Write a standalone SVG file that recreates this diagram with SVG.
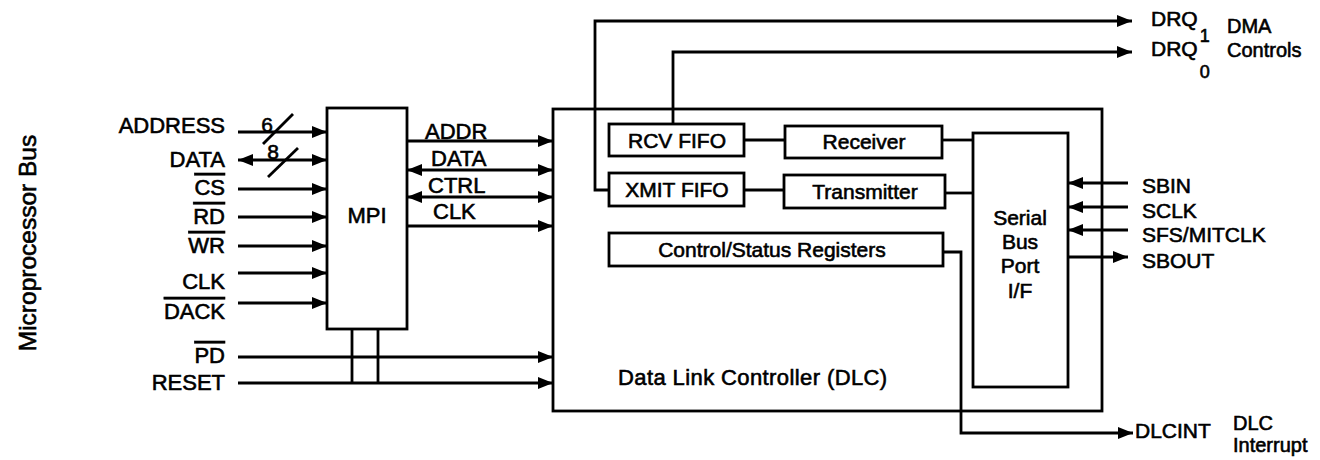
<svg xmlns="http://www.w3.org/2000/svg" width="1320" height="460" viewBox="0 0 1320 460">
  <defs>
    <marker id="arrow" viewBox="0 0 15 12" refX="15" refY="6" markerWidth="15" markerHeight="12" markerUnits="userSpaceOnUse" orient="auto-start-reverse">
      <path d="M0,0 L15,6 L0,12 Z" fill="#000"/>
    </marker>
    <style>
      text { font-family: "Liberation Sans", Arial, Helvetica, sans-serif; fill: #000; stroke: #000; stroke-width: 0.6; }
      .lbl { font-size: 22px; }
      .sm { font-size: 21px; }
      .sub { font-size: 18px; }
      .ov { text-decoration: overline; }
      .box { fill: #fff; stroke: #000; stroke-width: 2.8; }
      .wire { fill: none; stroke: #000; stroke-width: 2.8; }
      .fwd { marker-end: url(#arrow); }
      .bi { marker-start: url(#arrow); marker-end: url(#arrow); }
    </style>
  </defs>

  <rect width="1320" height="460" fill="#fff"/>

  <!-- side caption for the processor bus -->
  <text class="lbl" transform="translate(36,243) rotate(-90)" text-anchor="middle" style="font-size:24.5px">Microprocessor Bus</text>

  <!-- processor bus pin names -->
  <g id="bus-labels" class="lbl" text-anchor="end">
    <text x="225" y="133">ADDRESS</text>
    <text x="225" y="167">DATA</text>
    <text x="225" y="195" class="ov">CS</text>
    <text x="225" y="224" class="ov">RD</text>
    <text x="225" y="253" class="ov">WR</text>
    <text x="225" y="289">CLK</text>
    <text x="225" y="319" class="ov">DACK</text>
    <text x="225" y="363" class="ov">PD</text>
    <text x="225" y="390">RESET</text>
  </g>

  <!-- outer controller block -->
  <g id="dlc">
    <rect class="box" x="553" y="109" width="549" height="302"/>
    <text class="lbl" x="618" y="385" style="letter-spacing:0.4px">Data Link Controller (DLC)</text>
  </g>

  <g id="mpi">
    <rect class="box" x="327" y="108" width="80" height="221"/>
    <text class="lbl" x="367" y="223" text-anchor="middle">MPI</text>
  </g>

  <g id="rcv-fifo">
    <rect class="box" x="609" y="124" width="135" height="32"/>
    <text class="sm" x="677" y="148" text-anchor="middle">RCV FIFO</text>
  </g>

  <g id="receiver">
    <rect class="box" x="785" y="126" width="157" height="32"/>
    <text class="sm" x="864" y="149" text-anchor="middle">Receiver</text>
  </g>

  <g id="xmit-fifo">
    <rect class="box" x="609" y="173" width="135" height="33"/>
    <text class="sm" x="677" y="197" text-anchor="middle">XMIT FIFO</text>
  </g>

  <g id="transmitter">
    <rect class="box" x="784" y="175" width="161" height="33"/>
    <text class="sm" x="865" y="199" text-anchor="middle">Transmitter</text>
  </g>

  <g id="registers">
    <rect class="box" x="609" y="233" width="334" height="33"/>
    <text class="sm" x="772" y="257" text-anchor="middle">Control/Status Registers</text>
  </g>

  <g id="serial-port">
    <rect class="box" x="973" y="133" width="95" height="254"/>
    <g class="sm" text-anchor="middle">
      <text x="1020" y="225">Serial</text>
      <text x="1020" y="249">Bus</text>
      <text x="1020" y="273">Port</text>
      <text x="1020" y="298">I/F</text>
    </g>
  </g>

  <!-- connectors -->
  <g id="connectors">
    <!-- processor bus into MPI -->
    <path class="wire fwd" d="M238,132 H327"/>
    <path class="wire bi" d="M238,160 H327"/>
    <path class="wire fwd" d="M238,189 H327"/>
    <path class="wire fwd" d="M238,217 H327"/>
    <path class="wire fwd" d="M238,246 H327"/>
    <path class="wire fwd" d="M238,273 H327"/>
    <path class="wire fwd" d="M238,303 H327"/>
    <!-- bus width slashes -->
    <path class="wire" d="M263,144 L293,114"/>
    <path class="wire" d="M268,177 L298,148"/>

    <!-- power-down and reset straight to the controller -->
    <path class="wire fwd" d="M238,357 H553"/>
    <path class="wire fwd" d="M238,383 H553"/>
    <path class="wire" d="M352,329 V383"/>
    <path class="wire" d="M378,329 V383"/>

    <!-- MPI internal bus -->
    <path class="wire fwd" d="M407,141 H553"/>
    <path class="wire bi" d="M407,170 H553"/>
    <path class="wire bi" d="M407,197 H553"/>
    <path class="wire fwd" d="M407,226 H553"/>

    <!-- FIFO / framer / port links -->
    <path class="wire" d="M744,140 H785"/>
    <path class="wire" d="M744,190 H784"/>
    <path class="wire" d="M942,140 H973"/>
    <path class="wire" d="M945,193 H973"/>

    <!-- DMA requests -->
    <path class="wire fwd" d="M609,190 H595 V21 H1132"/>
    <path class="wire fwd" d="M673,124 V52 H1132"/>

    <!-- interrupt -->
    <path class="wire fwd" d="M943,252 H961 V433 H1133"/>

    <!-- serial pins -->
    <path class="wire fwd" d="M1128,183 H1068"/>
    <path class="wire fwd" d="M1128,207 H1068"/>
    <path class="wire fwd" d="M1128,230 H1068"/>
    <path class="wire fwd" d="M1068,257 H1128"/>
  </g>

  <!-- bus width figures -->
  <text class="sm" x="267" y="132" text-anchor="middle">6</text>
  <text class="sm" x="273" y="159" text-anchor="middle">8</text>

  <!-- MPI internal bus names -->
  <g id="mpi-bus-labels" class="lbl">
    <text x="425" y="139">ADDR</text>
    <text x="431" y="166">DATA</text>
    <text x="428" y="193">CTRL</text>
    <text x="433" y="219">CLK</text>
  </g>

  <!-- serial pin names -->
  <g id="serial-labels" class="sm">
    <text x="1142" y="193">SBIN</text>
    <text x="1142" y="218">SCLK</text>
    <text x="1142" y="242">SFS/MITCLK</text>
    <text x="1142" y="268">SBOUT</text>
  </g>

  <!-- DMA and interrupt outputs -->
  <g id="out-labels" class="sm">
    <text x="1151" y="26">DRQ<tspan class="sub" dx="2" dy="16">1</tspan></text>
    <text x="1151" y="56">DRQ<tspan class="sub" dx="2" dy="22">0</tspan></text>
    <text x="1227" y="33" style="font-size:20px">DMA</text>
    <text x="1227" y="57" style="font-size:20px">Controls</text>
    <text x="1135" y="438">DLCINT</text>
    <text x="1233" y="430" style="font-size:20px">DLC</text>
    <text x="1233" y="452" style="font-size:20px">Interrupt</text>
  </g>
</svg>
